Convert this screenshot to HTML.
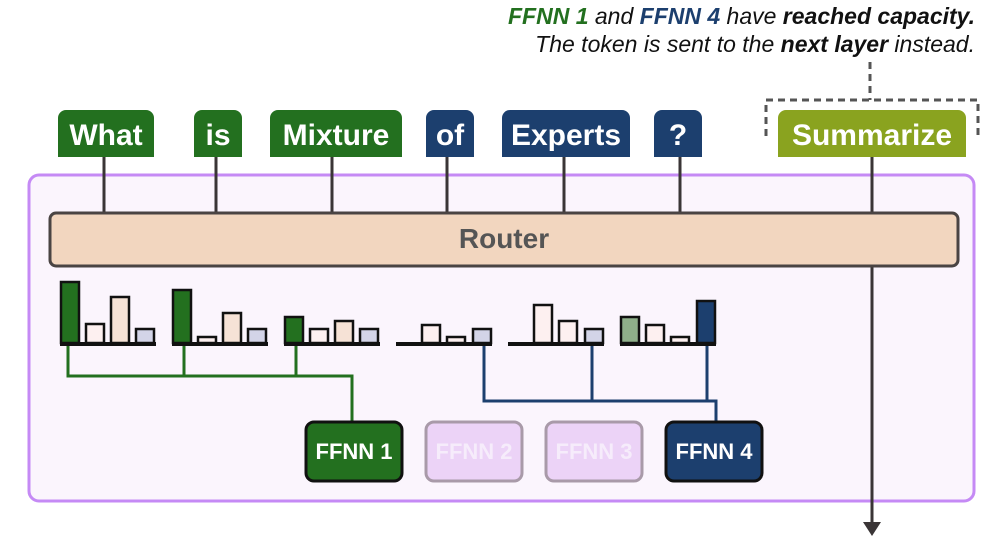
<!DOCTYPE html>
<html><head><meta charset="utf-8"><style>
body{margin:0;width:1004px;height:544px;background:#fff;overflow:hidden;font-family:"Liberation Sans",sans-serif}
</style></head><body>
<svg width="1004" height="544" xmlns="http://www.w3.org/2000/svg" font-family="Liberation Sans, sans-serif">
<text x="975" y="24" text-anchor="end" font-size="23" font-style="italic" fill="#111"><tspan font-weight="bold" fill="#23701f">FFNN 1</tspan> and <tspan font-weight="bold" fill="#1c3f6e">FFNN 4</tspan> have <tspan font-weight="bold">reached capacity.</tspan></text>
<text x="975" y="52" text-anchor="end" font-size="23" font-style="italic" fill="#111">The token is sent to the <tspan font-weight="bold">next layer</tspan> instead.</text>
<line x1="870" y1="62" x2="870" y2="100" stroke="#555" stroke-width="3" stroke-dasharray="7,5"/>
<path d="M766 136V100H978V136" fill="none" stroke="#555" stroke-width="3" stroke-dasharray="7,5"/>
<rect x="29" y="175" width="945" height="326" rx="10" fill="#fbf5fd" stroke="#c58af5" stroke-width="3"/>
<g stroke="#3a3536" stroke-width="3">
<line x1="104" y1="150" x2="104" y2="214"/><line x1="216" y1="150" x2="216" y2="214"/><line x1="332" y1="150" x2="332" y2="214"/><line x1="447" y1="150" x2="447" y2="214"/><line x1="564" y1="150" x2="564" y2="214"/><line x1="680" y1="150" x2="680" y2="214"/><line x1="872" y1="150" x2="872" y2="524"/>
</g>
<polygon points="863,522 881,522 872,536" fill="#3a3536"/>
<g font-weight="bold" font-size="30" fill="#fff" text-anchor="middle">
<path d="M58 157V118a8 8 0 0 1 8-8h80a8 8 0 0 1 8 8v39z" fill="#23701f"/><text x="106" y="145">What</text>
<path d="M194 157V118a8 8 0 0 1 8-8h32a8 8 0 0 1 8 8v39z" fill="#23701f"/><text x="218" y="145">is</text>
<path d="M270 157V118a8 8 0 0 1 8-8h116a8 8 0 0 1 8 8v39z" fill="#23701f"/><text x="336" y="145">Mixture</text>
<path d="M426 157V118a8 8 0 0 1 8-8h32a8 8 0 0 1 8 8v39z" fill="#1c3f6e"/><text x="450" y="145">of</text>
<path d="M502 157V118a8 8 0 0 1 8-8h112a8 8 0 0 1 8 8v39z" fill="#1c3f6e"/><text x="566" y="145">Experts</text>
<path d="M654 157V118a8 8 0 0 1 8-8h32a8 8 0 0 1 8 8v39z" fill="#1c3f6e"/><text x="678" y="145">?</text>
<path d="M778 157V118a8 8 0 0 1 8-8h172a8 8 0 0 1 8 8v39z" fill="#8aa31f"/><text x="872" y="145">Summarize</text>
</g>
<rect x="50" y="213" width="908" height="53" rx="6" fill="#f2d6bf" stroke="#4a4443" stroke-width="3"/>
<text x="504" y="248" text-anchor="middle" font-size="28" font-weight="bold" fill="#555">Router</text>
<g stroke="#111" stroke-width="2.5">
<rect x="61" y="282" width="18" height="61" fill="#23701f"/><rect x="86" y="324" width="18" height="19" fill="#fdf0f0"/><rect x="111" y="297" width="18" height="46" fill="#f6e2d6"/><rect x="136" y="329" width="18" height="14" fill="#d3d4e8"/>
<rect x="173" y="290" width="18" height="53" fill="#23701f"/><rect x="198" y="337" width="18" height="6" fill="#fdf0f0"/><rect x="223" y="313" width="18" height="30" fill="#f6e2d6"/><rect x="248" y="329" width="18" height="14" fill="#d3d4e8"/>
<rect x="285" y="317" width="18" height="26" fill="#23701f"/><rect x="310" y="329" width="18" height="14" fill="#fdf0f0"/><rect x="335" y="321" width="18" height="22" fill="#f6e2d6"/><rect x="360" y="329" width="18" height="14" fill="#d3d4e8"/>
<rect x="422" y="325" width="18" height="18" fill="#fdf0f0"/><rect x="447" y="337" width="18" height="6" fill="#fdf0f0"/><rect x="473" y="329" width="18" height="14" fill="#d3d4e8"/>
<rect x="534" y="305" width="18" height="38" fill="#fdf0f0"/><rect x="559" y="321" width="18" height="22" fill="#fdf0f0"/><rect x="585" y="329" width="18" height="14" fill="#d3d4e8"/>
<rect x="621" y="317" width="18" height="26" fill="#8fb08a"/><rect x="646" y="325" width="18" height="18" fill="#fdf0f0"/><rect x="671" y="337" width="18" height="6" fill="#fdf0f0"/><rect x="697" y="301" width="18" height="42" fill="#1c3f6e"/>
</g>
<g stroke="#111" stroke-width="4">
<line x1="60" y1="344" x2="156" y2="344"/><line x1="172" y1="344" x2="268" y2="344"/><line x1="284" y1="344" x2="380" y2="344"/><line x1="396" y1="344" x2="492" y2="344"/><line x1="508" y1="344" x2="604" y2="344"/><line x1="620" y1="344" x2="716" y2="344"/>
</g>
<g fill="none" stroke="#23701f" stroke-width="3">
<path d="M68 346V376H352V422"/><path d="M184 346V376"/><path d="M296 346V376"/>
</g>
<g fill="none" stroke="#1c3f6e" stroke-width="3">
<path d="M484 346V401H716V422"/><path d="M592 346V401"/><path d="M707 346V401"/>
</g>
<g font-weight="bold" font-size="22" text-anchor="middle">
<rect x="306" y="422" width="96" height="59" rx="8" fill="#23701f" stroke="#111" stroke-width="3"/><text x="354" y="459" fill="#fff">FFNN 1</text>
<rect x="426" y="422" width="96" height="59" rx="8" fill="#ecd3f7" stroke="#a99aa9" stroke-width="3"/><text x="474" y="459" fill="#f6ecfb">FFNN 2</text>
<rect x="546" y="422" width="96" height="59" rx="8" fill="#ecd3f7" stroke="#a99aa9" stroke-width="3"/><text x="594" y="459" fill="#f6ecfb">FFNN 3</text>
<rect x="666" y="422" width="96" height="59" rx="8" fill="#1c3f6e" stroke="#111" stroke-width="3"/><text x="714" y="459" fill="#fff">FFNN 4</text>
</g>
</svg>
</body></html>
